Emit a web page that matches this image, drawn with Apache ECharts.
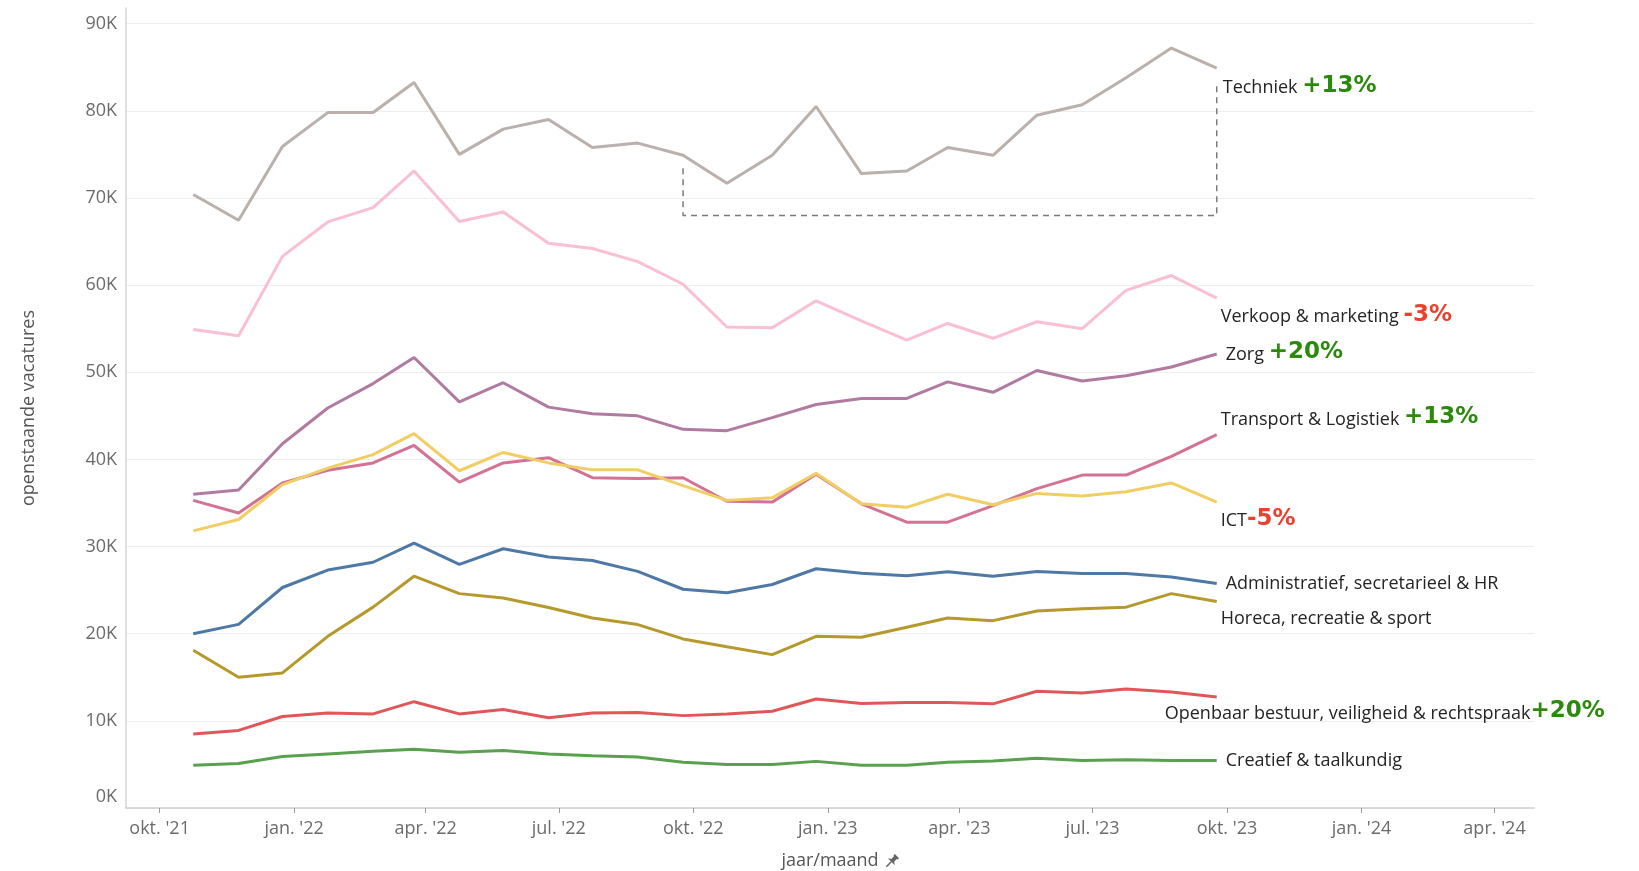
<!DOCTYPE html>
<html>
<head>
<meta charset="utf-8">
<script src="https://cdn.jsdelivr.net/npm/echarts@6/dist/echarts.min.js"></script>
<style>
    html, body { margin: 0; padding: 0; background: #fff; }
    #chart { width: 1639px; height: 871px; }
</style>
</head>
<body>
<div id="chart"></div>
<script>
// maanden (punt ligt rond de 24e van de maand)
const dates = ['2021-10-24', '2021-11-24', '2021-12-24', '2022-01-24', '2022-02-24', '2022-03-24',
    '2022-04-24', '2022-05-24', '2022-06-24', '2022-07-24', '2022-08-24', '2022-09-24',
    '2022-10-24', '2022-11-24', '2022-12-24', '2023-01-24', '2023-02-24', '2023-03-24',
    '2023-04-24', '2023-05-24', '2023-06-24', '2023-07-24', '2023-08-24', '2023-09-24']

const tickDates = ['2021-10-01', '2022-01-01', '2022-04-01', '2022-07-01', '2022-10-01', '2023-01-01',
    '2023-04-01', '2023-07-01', '2023-10-01', '2024-01-01', '2024-04-01']
const tickLabels = ["okt. '21", "jan. '22", "apr. '22", "jul. '22", "okt. '22", "jan. '23",
    "apr. '23", "jul. '23", "okt. '23", "jan. '24", "apr. '24"]

const techniek = [70400, 67450, 75900, 79800, 79800, 83250, 75000, 77900, 79000, 75800, 76300, 74900,
    71700, 74900, 80500, 72800, 73100, 75800, 74900, 79500, 80700, 83800, 87200, 84900]
const verkoop = [54900, 54200, 63300, 67250, 68900, 73100, 67300, 68400, 64800, 64200, 62700, 60100,
    55200, 55100, 58200, 55900, 53700, 55600, 53900, 55800, 55000, 59400, 61100, 58500]
const zorg = [36000, 36500, 41800, 45900, 48700, 51700, 46600, 48800, 46000, 45250, 45000, 43450,
    43300, 44800, 46300, 47000, 47000, 48900, 47700, 50200, 49000, 49600, 50600, 52100]
const transport = [35300, 33850, 37300, 38750, 39600, 41600, 37400, 39600, 40200, 37900, 37800, 37900,
    35200, 35100, 38300, 34900, 32800, 32800, 34700, 36650, 38200, 38200, 40350, 42850]
const ict = [31800, 33100, 37100, 39000, 40550, 42950, 38700, 40800, 39600, 38800, 38800, 37000,
    35300, 35600, 38400, 34900, 34500, 36000, 34800, 36100, 35800, 36300, 37300, 35100]
const administratief = [20000, 21070, 25300, 27300, 28200, 30400, 27950, 29750, 28800, 28400, 27150, 25100,
    24700, 25650, 27450, 26950, 26650, 27100, 26600, 27150, 26900, 26900, 26500, 25750]
const horeca = [18100, 15000, 15500, 19700, 23050, 26600, 24600, 24100, 23000, 21800, 21050, 19400,
    18500, 17600, 19700, 19600, 20750, 21800, 21500, 22600, 22850, 23050, 24600, 23700]
const openbaar = [8500, 8900, 10500, 10900, 10800, 12200, 10800, 11300, 10350, 10900, 10950, 10600,
    10800, 11100, 12500, 12000, 12100, 12100, 11950, 13400, 13200, 13650, 13300, 12750]
const creatief = [4900, 5100, 5900, 6200, 6500, 6750, 6400, 6600, 6200, 6000, 5850, 5250,
    5000, 5000, 5350, 4900, 4900, 5250, 5400, 5700, 5450, 5550, 5450, 5450]

// vergelijking sep '22 -> sep '23
const names = ['Techniek', 'Verkoop & marketing', 'Zorg', 'Transport & Logistiek', 'ICT',
    'Administratief, secretarieel & HR', 'Horeca, recreatie & sport',
    'Openbaar bestuur, veiligheid & rechtspraak', 'Creatief & taalkundig']
const changes = ['+13%', '-3%', '+20%', '+13%', '-5%', '', '', '+20%', '']
const bracketLow = 68000
const bracketGap = 1500

const GREEN = '#2b8a0c'
const RED = '#ea412c'
const TEXT = '#252423'
const AXIS_TEXT = '#6b6b6b'

function toTime(s) {
    const p = s.split('-')
    return new Date(+p[0], +p[1] - 1, +p[2]).getTime()
}

const tickTimes = tickDates.map(toTime)

function pairs(values) {
    return values.map((v, i) => [toTime(dates[i]), v])
}

function seriesFor(i, values, color, offset, sep) {
    const change = changes[i]
    let text = '{n|' + names[i] + '}'
    if (change) {
        text += (sep ? '{n| }' : '') + '{' + (change[0] == '+' ? 'up' : 'down') + '|' + change + '}'
    }
    return {
        name: names[i],
        type: 'line',
        data: pairs(values),
        showSymbol: false,
        symbol: 'none',
        lineStyle: { color: color, width: 3 },
        itemStyle: { color: color },
        emphasis: { disabled: true },
        endLabel: {
            show: true,
            distance: 0,
            offset: offset,
            formatter: text,
            rich: {
                n: { fontFamily: 'Open Sans', fontSize: 18, color: TEXT, verticalAlign: 'bottom', lineHeight: 24 },
                up: { fontFamily: 'DejaVu Sans', fontWeight: 'bold', fontSize: 23, color: GREEN, verticalAlign: 'bottom', lineHeight: 26 },
                down: { fontFamily: 'DejaVu Sans', fontWeight: 'bold', fontSize: 23, color: RED, verticalAlign: 'bottom', lineHeight: 26 }
            }
        }
    }
}

const last = dates.length - 1
const start = 11
const bracket = [
    [toTime(dates[start]), techniek[start] - bracketGap],
    [toTime(dates[start]), bracketLow],
    [toTime(dates[last]), bracketLow],
    [toTime(dates[last]), techniek[last] - bracketGap]
]

var dom = document.getElementById('chart')
var myChart = echarts.init(dom, null, { renderer: 'canvas' })

var option = {
    animation: false,
    backgroundColor: '#fff',
    textStyle: { fontFamily: 'Open Sans' },
    grid: { left: 126, right: 105, top: 8, bottom: 63, outerBoundsMode: 'none' },
    xAxis: {
        type: 'value',
        min: toTime('2021-09-08'),
        max: toTime('2024-04-28'),
        name: 'jaar/maand',
        nameLocation: 'middle',
        nameGap: 44,
        nameTextStyle: { fontFamily: 'Open Sans', fontSize: 18, color: '#555' },
        axisLine: { show: true, lineStyle: { color: '#cfcfcf', width: 1.5 } },
        axisTick: { show: true, length: 5, lineStyle: { color: '#999' }, customValues: tickTimes },
        axisLabel: {
            customValues: tickTimes,
            margin: 12,
            fontFamily: 'Open Sans',
            fontSize: 18,
            color: AXIS_TEXT,
            formatter: function (value) {
                for (let i = 0; i < tickTimes.length; i++) {
                    if (Math.abs(tickTimes[i] - value) < 86400000) return tickLabels[i]
                }
                return ''
            }
        },
        splitLine: { show: false }
    },
    yAxis: {
        type: 'value',
        min: 0,
        max: 91800,
        interval: 10000,
        name: 'openstaande vacatures',
        nameLocation: 'middle',
        nameRotate: 90,
        nameGap: 88,
        nameTextStyle: { fontFamily: 'Open Sans', fontSize: 18, color: '#555' },
        axisLine: { show: true, lineStyle: { color: '#d6d6d6', width: 1.5 } },
        axisTick: { show: false },
        axisLabel: {
            showMaxLabel: false,
            margin: 9,
            fontFamily: 'Open Sans',
            fontSize: 18,
            color: AXIS_TEXT,
            // 0K staat iets hoger, net als in het origineel
            formatter: v => v === 0 ? '{z|0K}' : (v / 1000) + 'K',
            rich: {
                z: { fontFamily: 'Open Sans', fontSize: 18, color: AXIS_TEXT, padding: [0, 0, 22, 0] }
            }
        },
        splitLine: { show: true, showMaxLine: false, lineStyle: { color: '#eeeeee', width: 1 } }
    },
    series: [
        {
            name: 'bracket',
            type: 'line',
            data: bracket,
            symbol: 'none',
            silent: true,
            lineStyle: { color: '#7a7a7a', width: 1.5, type: [6, 5] },
            z: 1
        },
        seriesFor(0, techniek, '#bab0ac', [6, 16], true),
        seriesFor(1, verkoop, '#fabfd2', [4, 15], true),
        seriesFor(2, zorg, '#b07aa1', [9, -3], true),
        seriesFor(3, transport, '#d37295', [4, -19], true),
        seriesFor(4, ict, '#f1ce63', [4, 15], false),
        seriesFor(5, administratief, '#4e79a7', [9, -3], true),
        seriesFor(6, horeca, '#b6992d', [4, 14], true),
        seriesFor(7, openbaar, '#e15759', [-52, 13], false),
        seriesFor(8, creatief, '#59a14f', [9, -3], true)
    ],
    graphic: [
        {
            type: 'group',
            x: 892,
            y: 861,
            rotation: -Math.PI / 4,
            children: [
                {
                    type: 'polygon',
                    shape: { points: [[-3, -7], [3, -7], [3, -5], [2, -5], [2, -1], [5, 1], [-5, 1], [-2, -1], [-2, -5], [-3, -5]] },
                    style: { fill: '#666' }
                },
                {
                    type: 'line',
                    shape: { x1: 0, y1: 1, x2: 0, y2: 8 },
                    style: { stroke: '#666', lineWidth: 1.5 }
                }
            ]
        }
    ]
}

option && myChart.setOption(option)
window.addEventListener('resize', myChart.resize)
</script>
</body>
</html>
